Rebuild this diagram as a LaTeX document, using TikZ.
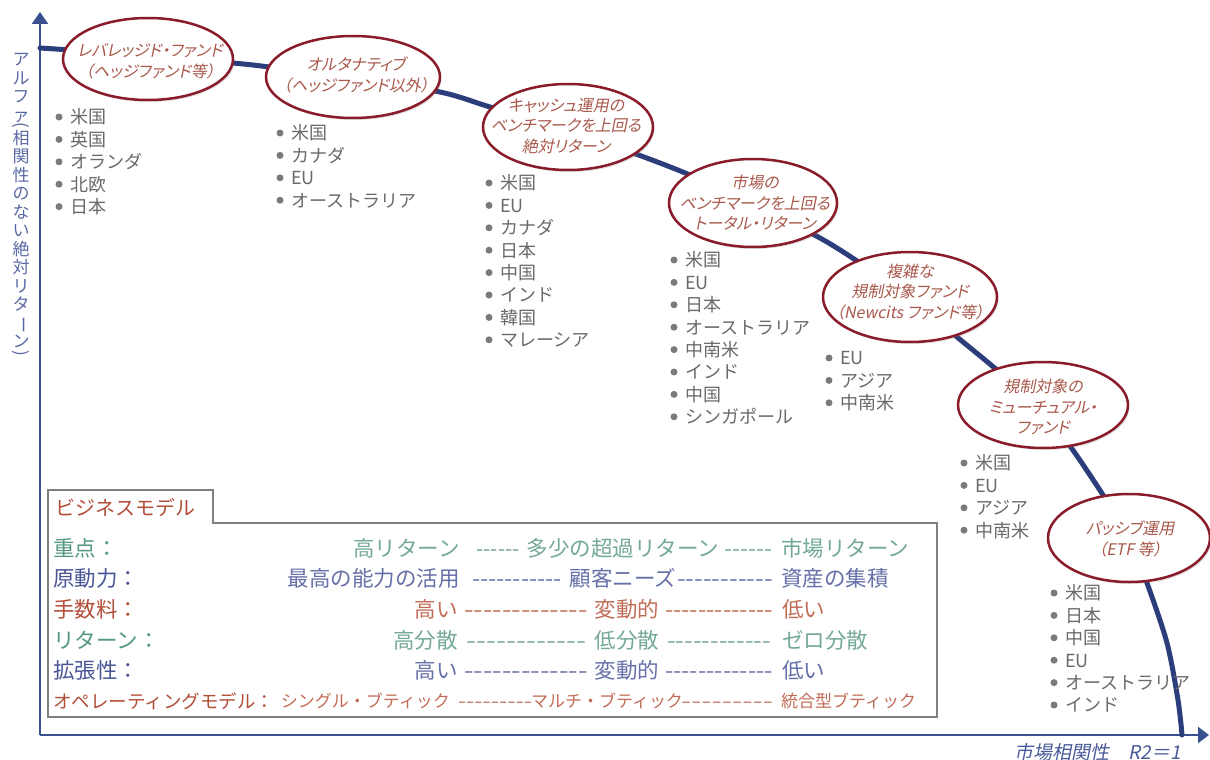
\documentclass[tikz,border=0pt]{standalone}
\usepackage{fontspec}
\usepackage{graphicx}
\usetikzlibrary{arrows.meta,shapes.geometric,shadows}
\newfontfamily\jp{Noto Sans CJK JP}
\newfontfamily\jpit[FakeSlant=0.2]{Noto Sans CJK JP}
\newfontfamily\jpitp[FakeSlant=0.2,RawFeature={+palt}]{Noto Sans CJK JP}
\definecolor{axisblue}{HTML}{3A5190}
\definecolor{curvenavy}{HTML}{2B3D7A}
\definecolor{ellred}{HTML}{8A1B2A}
\definecolor{elltext}{HTML}{A9584B}
\definecolor{listgray}{HTML}{6A6A6A}
\definecolor{bulgray}{HTML}{7A7A7A}
\definecolor{boxgray}{HTML}{7F7F7F}
\definecolor{tealL}{HTML}{55977F}
\definecolor{tealV}{HTML}{74A994}
\definecolor{blueL}{HTML}{4A5596}
\definecolor{blueV}{HTML}{6670A8}
\definecolor{redL}{HTML}{B24E38}
\definecolor{redV}{HTML}{C26C57}
\definecolor{ylab}{HTML}{5A69A4}
\definecolor{xlab}{HTML}{4A5A9A}
\newcommand\hy{-\kern0pt}
\newcommand\dashfill[2]{\resizebox{#1}{\height}{#2}}
\begin{document}
\begin{tikzpicture}[x=1pt,y=-1pt,
  axisline/.style={draw=axisblue, line width=2.5pt},
  curveline/.style={draw=curvenavy, line width=5pt, line cap=round},
  fundell/.style={ellipse, draw=ellred, line width=2.5pt, fill=white, inner sep=0pt,
    drop shadow={shadow xshift=1.5pt, shadow yshift=-2pt, opacity=0.25}},
  fundtxt/.style={align=center, text=elltext, font=\jpitp\fontsize{16}{20.5}\selectfont, inner sep=0pt},
  item/.style={anchor=west, inner sep=0pt, text=listgray, font=\jp\fontsize{18}{18}\selectfont,
    text height=15.8pt, text depth=2.2pt},
  bul/.style={circle, fill=bulgray, inner sep=0pt, minimum size=7pt},
  rowL/.style={anchor=west, inner sep=0pt, font=\jp\fontsize{21.5}{21.5}\selectfont,
    text height=18.9pt, text depth=2.6pt},
  rowV/.style={inner sep=0pt, font=\jp\fontsize{21.5}{21.5}\selectfont,
    text height=18.9pt, text depth=2.6pt},
  rowLs/.style={anchor=west, inner sep=0pt, font=\jp\fontsize{18.5}{18.5}\selectfont,
    text height=16.3pt, text depth=2.2pt},
  rowVs/.style={inner sep=0pt, font=\jp\fontsize{17}{17}\selectfont,
    text height=15pt, text depth=2pt}
]
\fill[white] (0,0) rectangle (1210,760);
\useasboundingbox (0,0) rectangle (1210,760);

% axes
\coordinate (O) at (40,735);
\coordinate (ytop) at (40,12);
\coordinate (xend) at (1209,735);
\draw[axisline, -{Triangle[length=12pt,width=16pt]}] (O) -- (ytop);
\draw[axisline, -{Triangle[length=11pt,width=16pt]}] (O) -- (xend);

% curve
\coordinate (cstart) at (40,48);
\coordinate (cend) at (1182,735);
\draw[curveline] plot[smooth, tension=0.5] coordinates {(cstart) (70,50) (150,56) (233,63) (277,68)
  (355,79) (440,92) (490,107) (565,130) (633,153) (690,175) (755,205) (820,238) (860,263)
  (910,298) (957,337) (997,370) (1040,408) (1070,446) (1103,495) (1130,540) (1147,583)
  (1167,643) (1178,700) (cend)};

% ellipses
\node[fundell, minimum width=170pt, minimum height=82pt] (e1) at (148,59) {};
\node[fundtxt] (t1) at (150,61) {レバレッジド・ファンド\\（ヘッジファンド等）};
\node[fundell, minimum width=174pt, minimum height=82pt] (e2) at (353,77) {};
\node[fundtxt] (t2) at (356,75) {オルタナティブ\\（ヘッジファンド以外）};
\node[fundell, minimum width=170pt, minimum height=86pt] (e3) at (568,127) {};
\node[fundtxt] (t3) at (566,126) {キャッシュ運用の\\ベンチマークを上回る\\絶対リターン};
\node[fundell, minimum width=168pt, minimum height=88pt] (e4) at (753,203) {};
\node[fundtxt] (t4) at (755,203) {市場の\\ベンチマークを上回る\\トータル・リターン};
\node[fundell, minimum width=174pt, minimum height=90pt] (e5) at (910,297) {};
\node[fundtxt] (t5) at (910,292) {複雑な\\規制対象ファンド\\（Newcits ファンド等）};
\node[fundell, minimum width=170pt, minimum height=86pt] (e6) at (1043,405) {};
\node[fundtxt] (t6) at (1043,407) {規制対象の\\ミューチュアル・\\ファンド};
\node[fundell, minimum width=162pt, minimum height=88pt] (e7) at (1129,538) {};
\node[fundtxt] (t7) at (1130,539) {パッシブ運用\\（ETF 等）};

% lists
\foreach \itm [count=\i from 0] in {米国,英国,オランダ,北欧,日本}{
  \node[bul] (a\i) at (59,{117+22.4*\i}) {};
  \node[item] (at\i) at (70,{117+22.4*\i}) {\itm};}
\foreach \itm [count=\i from 0] in {米国,カナダ,EU,オーストラリア}{
  \node[bul] (b\i) at (280,{133+22.4*\i}) {};
  \node[item] (bt\i) at (291,{133+22.4*\i}) {\itm};}
\foreach \itm [count=\i from 0] in {米国,EU,カナダ,日本,中国,インド,韓国,マレーシア}{
  \node[bul] (c\i) at (489,{183+22.4*\i}) {};
  \node[item] (ct\i) at (500,{183+22.4*\i}) {\itm};}
\foreach \itm [count=\i from 0] in {米国,EU,日本,オーストラリア,中南米,インド,中国,シンガポール}{
  \node[bul] (d\i) at (674,{260+22.4*\i}) {};
  \node[item] (dt\i) at (685,{260+22.4*\i}) {\itm};}
\foreach \itm [count=\i from 0] in {EU,アジア,中南米}{
  \node[bul] (f\i) at (829,{358+22.4*\i}) {};
  \node[item] (ft\i) at (840,{358+22.4*\i}) {\itm};}
\foreach \itm [count=\i from 0] in {米国,EU,アジア,中南米}{
  \node[bul] (g\i) at (964,{463+22.4*\i}) {};
  \node[item] (gt\i) at (975,{463+22.4*\i}) {\itm};}
\foreach \itm [count=\i from 0] in {米国,日本,中国,EU,オーストラリア,インド}{
  \node[bul] (h\i) at (1054,{593+22.4*\i}) {};
  \node[item] (ht\i) at (1065,{593+22.4*\i}) {\itm};}

% axis labels
\node[font=\jp\fontsize{17}{18.5}\selectfont, text=ylab, align=center, inner sep=0pt, anchor=north] (ylabel) at (21,53)
 {ア\\ル\\フ\\ァ\\[-9.3pt]\rotatebox[origin=c]{-90}{(}\\[-4.7pt]相\\関\\性\\の\\な\\い\\絶\\対\\リ\\タ\\\rotatebox[origin=c]{-90}{ー}\\ン\\[-7.5pt]\rotatebox[origin=c]{-90}{)}};
\node[anchor=east, font=\jpit\fontsize{19}{19}\selectfont, text=xlab, inner sep=0pt] (xlabel) at (1181,752) {市場相関性　R2＝1};

% business model box
\draw[draw=boxgray, line width=1.5pt, fill=white] (48,717) -- (48,490) -- (213,490) -- (213,523) -- (937,523) -- (937,717) -- cycle;
\node[rowL, text=redL, font=\jp\fontsize{20}{20}\selectfont] (bm) at (55,507) {ビジネスモデル};

% row 1
\node[rowL, text=tealL] (k1) at (53,548) {重点：};
\node[rowV, text=tealV, anchor=east] (k1a) at (460,548) {高リターン};
\node[rowV, text=tealV] (k1d) at (498,548) {\dashfill{43pt}{\hy\hy\hy\hy\hy\hy}};
\node[rowV, text=tealV] (k1b) at (623,548) {多少の超過リターン};
\node[rowV, text=tealV] (k1e) at (748,548) {\dashfill{48pt}{\hy\hy\hy\hy\hy\hy}};
\node[rowV, text=tealV, anchor=west] (k1c) at (781,548) {市場リターン};
% row 2
\node[rowL, text=blueL] (k2) at (53,578) {原動力：};
\node[rowV, text=blueV, anchor=east] (k2a) at (460,578) {最高の能力の活用};
\node[rowV, text=blueV] (k2d) at (517,578) {\dashfill{90pt}{\hy\hy\hy\hy\hy\hy\hy\hy\hy\hy\hy}};
\node[rowV, text=blueV] (k2b) at (623,578) {顧客ニーズ};
\node[rowV, text=blueV] (k2e) at (725,578) {\dashfill{96pt}{\hy\hy\hy\hy\hy\hy\hy\hy\hy\hy\hy}};
\node[rowV, text=blueV, anchor=west] (k2c) at (781,578) {資産の集積};
% row 3
\node[rowL, text=redL] (k3) at (53,609) {手数料：};
\node[rowV, text=redV, anchor=east] (k3a) at (458,609) {高い};
\node[rowV, text=redV] (k3d) at (526,609) {\dashfill{124pt}{\hy\hy\hy\hy\hy\hy\hy\hy\hy\hy\hy\hy\hy}};
\node[rowV, text=redV] (k3b) at (627,609) {変動的};
\node[rowV, text=redV] (k3e) at (719,609) {\dashfill{108pt}{\hy\hy\hy\hy\hy\hy\hy\hy\hy\hy\hy\hy\hy}};
\node[rowV, text=redV, anchor=west] (k3c) at (782,609) {低い};
% row 4
\node[rowL, text=tealL] (k4) at (53,640) {リターン：};
\node[rowV, text=tealV, anchor=east] (k4a) at (458,640) {高分散};
\node[rowV, text=tealV] (k4d) at (526,640) {\dashfill{120pt}{\hy\hy\hy\hy\hy\hy\hy\hy\hy\hy\hy\hy}};
\node[rowV, text=tealV] (k4b) at (627,640) {低分散};
\node[rowV, text=tealV] (k4e) at (719,640) {\dashfill{104pt}{\hy\hy\hy\hy\hy\hy\hy\hy\hy\hy\hy\hy}};
\node[rowV, text=tealV, anchor=west] (k4c) at (782,640) {ゼロ分散};
% row 5
\node[rowL, text=blueL] (k5) at (53,670) {拡張性：};
\node[rowV, text=blueV, anchor=east] (k5a) at (458,670) {高い};
\node[rowV, text=blueV] (k5d) at (526,670) {\dashfill{124pt}{\hy\hy\hy\hy\hy\hy\hy\hy\hy\hy\hy\hy\hy}};
\node[rowV, text=blueV] (k5b) at (627,670) {変動的};
\node[rowV, text=blueV] (k5e) at (719,670) {\dashfill{108pt}{\hy\hy\hy\hy\hy\hy\hy\hy\hy\hy\hy\hy\hy}};
\node[rowV, text=blueV, anchor=west] (k5c) at (782,670) {低い};
% row 6
\node[rowLs, text=redL] (k6) at (53,701) {オペレーティングモデル：};
\node[rowVs, text=redV, anchor=east] (k6a) at (450,701) {シングル・ブティック};
\node[rowVs, text=redV] (k6d) at (495,701) {\dashfill{74pt}{\hy\hy\hy\hy\hy\hy\hy\hy\hy}};
\node[rowVs, text=redV] (k6b) at (607,701) {マルチ・ブティック};
\node[rowVs, text=redV] (k6e) at (727,701) {\dashfill{92pt}{\hy\hy\hy\hy\hy\hy\hy\hy\hy}};
\node[rowVs, text=redV, anchor=west] (k6c) at (781,701) {統合型ブティック};
\end{tikzpicture}
\end{document}
